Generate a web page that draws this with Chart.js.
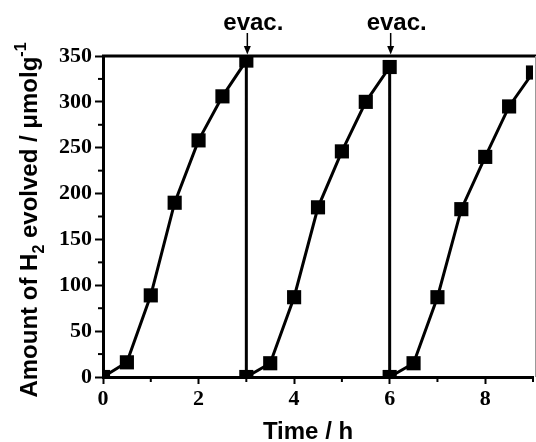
<!DOCTYPE html>
<html lang="en">
<head>
    <meta charset="UTF-8">
    <title>H2 evolution cycles</title>
    <script src="https://cdn.jsdelivr.net/npm/chart.js"></script>
    <style>
        body { margin: 0; background: #fff; }
        #wrap { width: 536px; height: 442px; }
    </style>
</head>
<body>
    <div id="wrap">
        <canvas id="h2Chart" width="536" height="442"></canvas>
    </div>

    <script>
        // time (h) and amount of H2 (umol/g), three runs with evacuation at 3 h and 6 h
        const timeH = [0, 0.5, 1, 1.5, 2, 2.5, 3, 3, 3.5, 4, 4.5, 5, 5.5, 6, 6, 6.5, 7, 7.5, 8, 8.5, 9];
        const h2Evolved = [0, 16, 89, 190, 258, 306, 345, 0, 15, 87, 185, 246, 300, 338, 0, 15, 87, 183, 240, 295, 332];
        const evacTimes = [3, 6];
        const evacLabel = "evac.";
        const xMajorTicks = [0, 2, 4, 6, 8];
        const yMajorTicks = [0, 50, 100, 150, 200, 250, 300, 350];

        const sansBold = "bold 24px 'Liberation Sans', Arial, sans-serif";

        // extras drawn on top: frame, minor ticks, evac arrows, axis titles
        const extrasPlugin = {
            id: "extras",
            afterDraw(chart) {
                const ctx = chart.ctx;
                const area = chart.chartArea;
                const xs = chart.scales.x;
                const ys = chart.scales.y;
                ctx.save();

                // top frame line (thick) and right frame line (thin, grey)
                ctx.strokeStyle = "#000";
                ctx.lineWidth = 3;
                ctx.beginPath();
                ctx.moveTo(area.left - 1, area.top);
                ctx.lineTo(chart.width, area.top);
                ctx.stroke();
                ctx.strokeStyle = "#999";
                ctx.lineWidth = 1;
                ctx.beginPath();
                ctx.moveTo(area.right + 2.5, area.top);
                ctx.lineTo(area.right + 2.5, area.bottom);
                ctx.stroke();

                // minor ticks
                ctx.strokeStyle = "#000";
                ctx.lineWidth = 2;
                for (let v = 25; v < 350; v += 50) {
                    const py = ys.getPixelForValue(v);
                    ctx.beginPath();
                    ctx.moveTo(area.left - 5, py);
                    ctx.lineTo(area.left, py);
                    ctx.stroke();
                }
                for (let v = 1; v <= 9; v += 2) {
                    const px = xs.getPixelForValue(v);
                    ctx.beginPath();
                    ctx.moveTo(px, area.bottom);
                    ctx.lineTo(px, area.bottom + 5);
                    ctx.stroke();
                }

                // evacuation arrows
                ctx.fillStyle = "#000";
                ctx.lineWidth = 1.5;
                ctx.font = sansBold;
                ctx.textAlign = "center";
                ctx.textBaseline = "alphabetic";
                evacTimes.forEach(t => {
                    const px = xs.getPixelForValue(t) + 1;
                    ctx.beginPath();
                    ctx.moveTo(px, 33);
                    ctx.lineTo(px, area.top - 8);
                    ctx.stroke();
                    ctx.beginPath();
                    ctx.moveTo(px - 3.5, area.top - 10);
                    ctx.lineTo(px + 3.5, area.top - 10);
                    ctx.lineTo(px, area.top - 1.5);
                    ctx.closePath();
                    ctx.fill();
                    ctx.fillText(evacLabel, px + 6, 30);
                });

                // x title
                ctx.font = sansBold;
                ctx.fillText("Time / h", 308, 439);

                // y title with sub/superscript
                const parts = [
                    { t: "Amount of H", f: sansBold, dy: 0 },
                    { t: "2", f: "bold 16px 'Liberation Sans', Arial, sans-serif", dy: 7 },
                    { t: " evolved / \u03bcmolg", f: sansBold, dy: 0 },
                    { t: "-1", f: "bold 16px 'Liberation Sans', Arial, sans-serif", dy: -11 }
                ];
                let total = 0;
                parts.forEach(p => { ctx.font = p.f; p.w = ctx.measureText(p.t).width; total += p.w; });
                ctx.translate(37, 220);
                ctx.rotate(-Math.PI / 2);
                ctx.textAlign = "left";
                let cx = -total / 2;
                parts.forEach(p => {
                    ctx.font = p.f;
                    ctx.fillText(p.t, cx, p.dy);
                    cx += p.w;
                });

                ctx.restore();
            }
        };

        const tickFont = { family: "'Liberation Serif', 'Times New Roman', serif", weight: "bold", size: 22 };

        new Chart(document.getElementById("h2Chart").getContext("2d"), {
            type: "line",
            data: {
                datasets: [{
                    data: timeH.map((t, i) => ({ x: t, y: h2Evolved[i] })),
                    borderColor: "#000",
                    borderWidth: 3,
                    tension: 0,
                    pointStyle: "rect",
                    pointRadius: 10,
                    pointBackgroundColor: "#000",
                    pointBorderColor: "#000",
                    pointBorderWidth: 0
                }]
            },
            options: {
                responsive: false,
                animation: false,
                layout: { autoPadding: false, padding: { left: 0, right: 3, top: 56, bottom: 0 } },
                plugins: {
                    legend: { display: false },
                    tooltip: { enabled: false }
                },
                scales: {
                    x: {
                        type: "linear",
                        min: 0,
                        max: 9,
                        afterFit: s => { s.height = 65; s.paddingLeft = 0; s.paddingRight = 0; },
                        afterBuildTicks: s => { s.ticks = xMajorTicks.map(v => ({ value: v })); },
                        ticks: { color: "#000", font: tickFont, padding: 2, maxRotation: 0 },
                        grid: { drawOnChartArea: false, tickLength: 7, tickWidth: 2, tickColor: "#000" },
                        border: { color: "#000", width: 3 }
                    },
                    y: {
                        min: 0,
                        max: 350,
                        afterFit: s => { s.width = 103; s.paddingTop = 0; s.paddingBottom = 0; },
                        afterBuildTicks: s => { s.ticks = yMajorTicks.map(v => ({ value: v })); },
                        ticks: { color: "#000", font: tickFont, padding: 3 },
                        grid: { drawOnChartArea: false, tickLength: 8, tickWidth: 2, tickColor: "#000" },
                        border: { color: "#000", width: 3 }
                    }
                }
            },
            plugins: [extrasPlugin]
        });
    </script>
</body>
</html>
